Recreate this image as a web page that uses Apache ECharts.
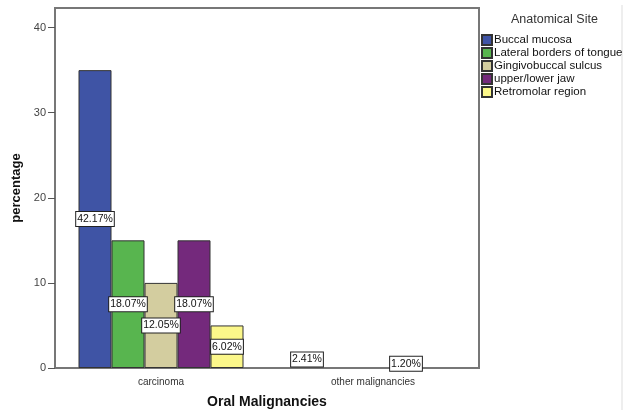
<!DOCTYPE html>
<html><head><meta charset="utf-8">
<script src="https://cdn.jsdelivr.net/npm/echarts@6/dist/echarts.min.js"></script>
<style>html,body{margin:0;padding:0;background:#fff}#c{width:632px;height:414px}</style>
</head><body><div id="c"></div>
<script>
const categories = ['carcinoma', 'other malignancies'];
const seriesNames = ['Buccal mucosa', 'Lateral borders of tongue', 'Gingivobuccal sulcus', 'upper/lower jaw', 'Retromolar region'];
const buccal = [35, 2];
const lateral = [15, 0];
const gingivo = [10, 0];
const jaw = [15, 1];
const retromolar = [5, 0];
const buccalLabels = ['42.17%', '2.41%'];
const lateralLabels = ['18.07%', ''];
const gingivoLabels = ['12.05%', ''];
const jawLabels = ['18.07%', '1.20%'];
const retromolarLabels = ['6.02%', ''];
const hiddenBars = [false, true];
const yTicks = [0, 10, 20, 30, 40];

const colors = ['#3f54a5', '#58b54f', '#d3cd9f', '#74297c', '#fbf78a'];
const values = [buccal, lateral, gingivo, jaw, retromolar];
const labels = [buccalLabels, lateralLabels, gingivoLabels, jawLabels, retromolarLabels];

const series = seriesNames.map((n, i) => ({
  name: n, type: 'bar', barWidth: 33, barGap: '0%',
  itemStyle: { color: colors[i], borderColor: '#333', borderWidth: 1 },
  data: values[i].map((v, j) => ({
    value: v,
    itemStyle: hiddenBars[j] ? { color: 'rgba(0,0,0,0)', borderWidth: 0 } : undefined,
    label: {
      show: labels[i][j] !== '',
      position: 'inside',
      formatter: labels[i][j],
      color: '#111', fontSize: 10.5, fontFamily: 'Liberation Sans, Arial',
      backgroundColor: '#fff', borderColor: '#222', borderWidth: 1,
      padding: [2, 1, 1, 1]
    }
  }))
}));

const chart = echarts.init(document.getElementById('c'), null, { renderer: 'canvas' });
chart.setOption({
  animation: false,
  backgroundColor: '#fff',
  textStyle: { fontFamily: 'Liberation Sans, Arial' },
  grid: { left: 55, top: 8, right: 153, bottom: 41, show: true, borderColor: '#777', borderWidth: 2, backgroundColor: '#fff' },
  legend: {
    orient: 'vertical', left: 481, top: 34, padding: 0, itemWidth: 10, itemHeight: 10, itemGap: 1,
    icon: 'rect',
    textStyle: { fontSize: 11.5, lineHeight: 10, color: '#111', padding: [0, 0, 0, -3] },
    data: seriesNames
  },
  graphic: [
    { type: 'text', left: 511, top: 13, style: { text: 'Anatomical Site', fontSize: 12.5, fill: '#333', fontFamily: 'Liberation Sans, Arial' } },
    { type: 'line', shape: { x1: 622, y1: 5, x2: 622, y2: 410 }, style: { stroke: '#ddd', lineWidth: 1 } }
  ],
  xAxis: {
    type: 'category', data: categories,
    name: 'Oral Malignancies', nameLocation: 'middle', nameGap: 27,
    nameTextStyle: { fontSize: 14, fontWeight: 'bold', color: '#111' },
    axisLine: { lineStyle: { color: '#777', width: 2 } },
    axisTick: { alignWithLabel: true, length: 4, lineStyle: { color: '#555' } },
    axisLabel: { fontSize: 10, color: '#333', margin: 9 }
  },
  yAxis: {
    type: 'value', min: 0, max: 42.3, interval: 10,
    name: 'percentage', nameLocation: 'middle', nameGap: 32,
    nameTextStyle: { fontSize: 13, fontWeight: 'bold', color: '#111' },
    axisLine: { show: true, lineStyle: { color: '#777', width: 2 } },
    axisTick: { show: true, length: 7, lineStyle: { color: '#555' } },
    splitLine: { show: false },
    axisLabel: { fontSize: 11, color: '#444', margin: 9, showMaxLabel: false,
      formatter: v => yTicks.includes(v) ? String(v) : '' }
  },
  series: series
});
</script></body></html>
